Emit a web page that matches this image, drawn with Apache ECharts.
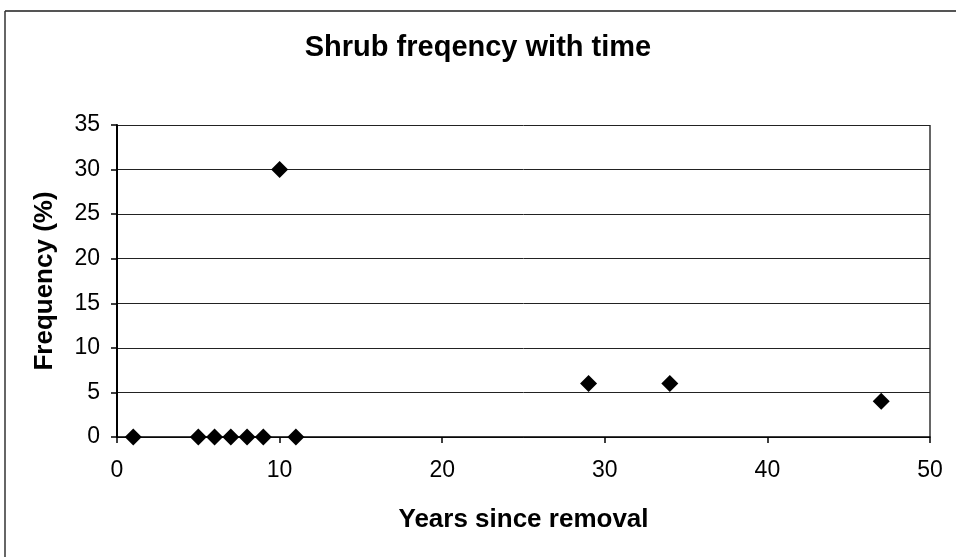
<!DOCTYPE html>
<html>
<head>
<meta charset="utf-8">
<script src="https://cdn.jsdelivr.net/npm/echarts@6/dist/echarts.min.js"></script>
<style>html,body{margin:0;padding:0;background:#fff;}#c{width:956px;height:557px;}</style>
</head>
<body>
<div id="c"></div>
<script>
const years = [1, 5, 6, 7, 8, 9, 10, 11, 29, 34, 47];
const frequency = [0, 0, 0, 0, 0, 0, 30, 0, 6, 6, 4];
const titleText = 'Shrub freqency with time';
const xName = 'Years since removal';
const yName = 'Frequency (%)';

const chart = echarts.init(document.getElementById('c'));
const font = '"Liberation Sans", Arial, sans-serif';
chart.setOption({
  animation: false,
  backgroundColor: '#fff',
  title: {
    text: titleText, left: 'center', top: 28,
    textStyle: { fontFamily: font, fontSize: 29, fontWeight: 'bold', color: '#000' }
  },
  grid: { left: 117, right: 26, top: 125, bottom: 120 },
  xAxis: {
    type: 'value', min: 0, max: 50, interval: 10,
    name: xName, nameLocation: 'middle', nameGap: 70,
    nameTextStyle: { fontFamily: font, fontSize: 26, fontWeight: 'bold', color: '#000' },
    axisLine: { show: true, onZero: false, lineStyle: { color: '#000', width: 1.5 } },
    axisTick: { show: true, inside: false, length: 6, lineStyle: { color: '#000', width: 1.5 } },
    axisLabel: { margin: 22, fontFamily: font, fontSize: 23, color: '#000' },
    splitLine: { show: false }
  },
  yAxis: {
    type: 'value', min: 0, max: 35, interval: 5,
    name: yName, nameLocation: 'middle', nameGap: 59, nameRotate: 90,
    nameTextStyle: { fontFamily: font, fontSize: 26, fontWeight: 'bold', color: '#000' },
    axisLine: { show: true, lineStyle: { color: '#000', width: 2 } },
    axisTick: { show: true, inside: false, length: 6, lineStyle: { color: '#000', width: 1.5 } },
    axisLabel: { margin: 17, fontFamily: font, fontSize: 23, color: '#000' },
    splitLine: { show: true, lineStyle: { color: '#222', width: 1 } }
  },
  graphic: [
    { type: 'line', shape: { x1: 5, y1: 11, x2: 956, y2: 11 }, style: { stroke: '#555', lineWidth: 2 } },
    { type: 'line', shape: { x1: 5, y1: 11, x2: 5, y2: 557 }, style: { stroke: '#333', lineWidth: 1.5 } },
    { type: 'line', shape: { x1: 930, y1: 125, x2: 930, y2: 437 }, style: { stroke: '#333', lineWidth: 1.5 } }
  ],
  series: [{
    type: 'scatter',
    data: years.map((x, i) => [x, frequency[i]]),
    symbol: 'diamond', symbolSize: 17,
    itemStyle: { color: '#000', opacity: 1 }
  }]
});
</script>
</body>
</html>
